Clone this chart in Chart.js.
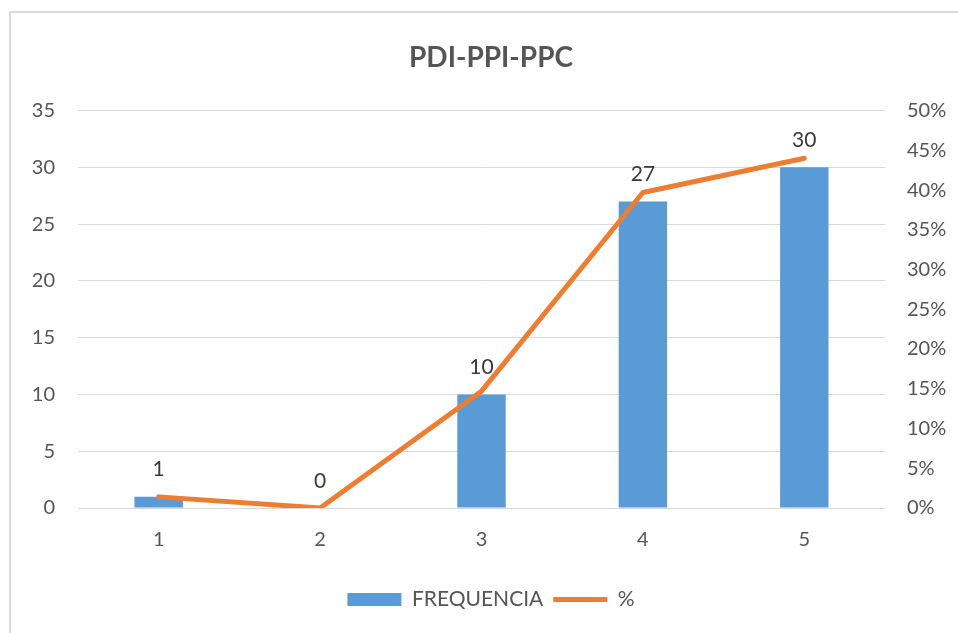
<!DOCTYPE html>
<html>
<head>
<meta charset="utf-8">
<script src="https://cdn.jsdelivr.net/npm/chart.js@4"></script>
<style>
  html, body { margin: 0; padding: 0; background: #ffffff; overflow: hidden; }
  #frame { position: absolute; left: 9px; top: 11px; width: 1200px; height: 1200px;
           border-left: 2px solid #dadada; border-top: 2px solid #dadada; }
  #wrap { position: absolute; left: 0; top: 0; width: 958px; height: 633px; }
</style>
</head>
<body>
<div id="frame"></div>
<div id="wrap"><canvas id="c" width="958" height="633"></canvas></div>
<script>
const categories = ['1', '2', '3', '4', '5'];
const frequencia = [1, 0, 10, 27, 30];
const percent = [0.014, 0, 0.147, 0.397, 0.44];
const leftTicks = [0, 5, 10, 15, 20, 25, 30, 35];
const rightTicks = [0, 0.05, 0.10, 0.15, 0.20, 0.25, 0.30, 0.35, 0.40, 0.45, 0.50];
const titleText = 'PDI-PPI-PPC';
const seriesNames = ['FREQUENCIA', '%'];

const FONT = 'Lato, "Open Sans", sans-serif';
const GRAY = '#555555';
const BLUE = '#5B9BD5';
const ORANGE = '#ED7D31';

const barLabels = {
  id: 'barLabels',
  afterDatasetDraw(chart, args) {
    if (args.index !== 0) return;
    const ctx = chart.ctx;
    const meta = args.meta;
    ctx.save();
    ctx.font = '21px ' + FONT;
    ctx.fillStyle = '#3a3a3a';
    ctx.textAlign = 'center';
    ctx.textBaseline = 'middle';
    meta.data.forEach((el, i) => {
      ctx.fillText(String(frequencia[i]), el.x, el.y - 27);
    });
    ctx.restore();
  }
};

new Chart(document.getElementById('c'), {
  data: {
    labels: categories,
    datasets: [
      {
        type: 'bar',
        label: seriesNames[0],
        data: frequencia,
        backgroundColor: BLUE,
        borderWidth: 0,
        barPercentage: 0.3,
        categoryPercentage: 1,
        yAxisID: 'y',
        order: 1
      },
      {
        type: 'line',
        label: seriesNames[1],
        data: percent,
        borderColor: ORANGE,
        backgroundColor: ORANGE,
        borderWidth: 5,
        pointRadius: 0,
        pointHoverRadius: 0,
        tension: 0,
        borderCapStyle: 'round',
        borderJoinStyle: 'round',
        yAxisID: 'y1',
        order: 0
      }
    ]
  },
  options: {
    responsive: false,
    animation: false,
    layout: { padding: { left: 24, right: 0, top: 0, bottom: 13 } },
    plugins: {
      title: {
        display: true,
        text: titleText,
        color: GRAY,
        font: { family: FONT, size: 28, weight: 'bold' },
        padding: { top: 41, bottom: 36 }
      },
      legend: {
        display: true,
        position: 'bottom',
        labels: {
          color: GRAY,
          font: { family: FONT, size: 21 },
          usePointStyle: true,
          pointStyleWidth: 54,
          boxHeight: 13,
          padding: 10,
          generateLabels(chart) {
            const items = Chart.defaults.plugins.legend.labels.generateLabels(chart);
            items.sort((a, b) => a.datasetIndex - b.datasetIndex);
            items.forEach(it => {
              it.fontColor = GRAY;
              if (it.datasetIndex === 0) {
                it.pointStyle = 'rect';
                it.fillStyle = BLUE;
                it.strokeStyle = BLUE;
                it.lineWidth = 0;
              } else {
                it.pointStyle = 'line';
                it.fillStyle = ORANGE;
                it.strokeStyle = ORANGE;
                it.lineWidth = 5;
              }
            });
            return items;
          }
        }
      },
      tooltip: { enabled: false }
    },
    scales: {
      x: {
        type: 'category',
        offset: true,
        grid: { display: false, drawTicks: false },
        border: { display: false },
        ticks: { color: GRAY, font: { family: FONT, size: 20 }, padding: 20 },
        afterFit(scale) { scale.height = 71; }
      },
      y: {
        type: 'linear',
        position: 'left',
        min: 0,
        max: 35,
        afterBuildTicks(scale) { scale.ticks = leftTicks.map(v => ({ value: v })); },
        grid: { color: '#d9d9d9', lineWidth: 1, drawTicks: false },
        border: { display: false },
        ticks: { color: GRAY, font: { family: FONT, size: 20 }, padding: 23 },
        afterFit(scale) { scale.width = 54; }
      },
      y1: {
        type: 'linear',
        position: 'right',
        min: 0,
        max: 0.5,
        afterBuildTicks(scale) { scale.ticks = rightTicks.map(v => ({ value: v })); },
        grid: { display: false, drawTicks: false },
        border: { display: false },
        ticks: {
          color: GRAY,
          font: { family: FONT, size: 20 },
          padding: 22,
          callback: v => Math.round(v * 100) + '%'
        },
        afterFit(scale) { scale.width = 73; }
      }
    }
  },
  plugins: [barLabels]
});
</script>
</body>
</html>
